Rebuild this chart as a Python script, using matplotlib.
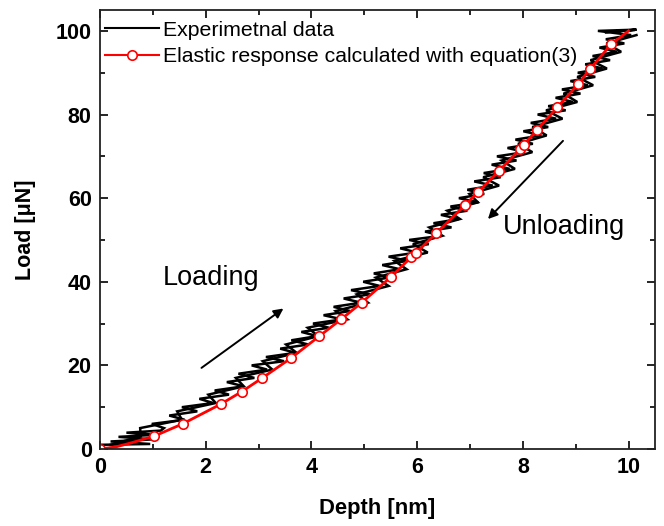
import matplotlib
matplotlib.use("Agg")
import matplotlib.pyplot as plt
from matplotlib.ticker import MultipleLocator

plt.rcParams['font.family'] = ['Liberation Sans', 'DejaVu Sans']

# Experimental data, loading branch (zig-zag noisy trace), depth [nm] vs load [uN]
load_up = [1.0, 1.2, 1.8, 2.3, 2.9, 3.4, 3.9, 4.4,
           5, 6, 7, 8, 9, 10, 11, 12, 13, 14, 15, 16, 17, 18, 19, 20,
           21, 22, 23, 24, 25, 26, 27, 28, 29, 30, 31, 32, 33, 34, 35, 36,
           37, 38, 39, 40, 41, 42, 43, 44, 45, 46, 47, 48, 49, 50,
           51, 52, 53, 54, 55, 56, 57, 58, 59, 60, 61, 62, 63, 64, 65, 66,
           67, 68, 69, 70, 71, 72, 73, 74, 75, 76, 77, 78, 79, 80,
           81, 82, 83, 84, 85, 86, 87, 88, 89, 90, 91, 92, 93, 94, 95, 96,
           97, 98, 99, 100, 100.3, 99.7, 100.2]
depth_up = [0.0, 0.95, 0.2, 1.0, 0.35, 1.05, 0.5, 1.15,
            1.21, 0.98, 1.60, 1.31, 1.84, 1.55, 2.14, 1.88, 2.44, 2.17, 2.72, 2.40,
            2.92, 2.62, 3.16, 2.87,
            3.48, 3.14, 3.70, 3.41, 3.94, 3.62, 4.11, 3.81, 4.33, 4.03, 4.58, 4.23,
            4.73, 4.42, 4.94, 4.61, 5.11, 4.75, 5.29, 4.98, 5.47, 5.18, 5.67, 5.34,
            5.82, 5.46, 6.00, 5.68, 6.22, 5.85,
            6.46, 6.15, 6.65, 6.31, 6.79, 6.45, 6.95, 6.63, 7.16, 6.79, 7.27, 6.95,
            7.43, 7.08, 7.58, 7.26, 7.75, 7.41, 7.88, 7.51, 8.04, 7.71, 8.19, 7.86,
            8.35, 8.01, 8.48, 8.15, 8.63, 8.28,
            8.81, 8.48, 8.95, 8.62, 9.09, 8.74, 9.23, 8.90, 9.37, 9.04, 9.51, 9.18,
            9.65, 9.32, 9.78, 9.45, 9.92, 9.57, 10.05, 9.42, 10.15, 9.55, 10.10]

# Experimental data, unloading branch
load_down = [99, 97, 95, 93, 91, 89, 87, 85, 83, 81, 79, 77, 75, 73, 71, 69, 67,
             65, 63, 61, 59, 57, 55, 53, 51, 49, 47, 45, 43, 41, 39, 37, 35, 33,
             31, 29, 27, 25, 23, 21, 19, 17, 15, 13, 11, 9, 7, 5, 3, 1]
depth_down = [10.15, 9.58, 9.86, 9.28, 9.59, 9.03, 9.33, 8.77, 9.03, 8.44, 8.75,
              8.18, 8.45, 7.91, 8.18, 7.60, 7.85, 7.25, 7.55, 6.99, 7.15, 6.57,
              6.81, 6.23, 6.48, 5.92, 6.20, 5.57, 5.80, 5.22, 5.46, 4.86, 5.07,
              4.46, 4.68, 3.93, 4.13, 3.52, 3.72, 3.08, 3.26, 2.57, 2.72, 2.05,
              2.19, 1.46, 1.55, 0.76, 0.77, 0.2]

# Elastic response (red line) and its marker points
line_depth = [0.0, 0.3, 0.6, 1.03, 1.57, 2.28, 2.68, 3.06, 3.61, 4.15, 4.56, 4.95,
              5.50, 5.89, 5.97, 6.36, 6.91, 7.15, 7.54, 7.95, 8.02, 8.26, 8.65,
              9.05, 9.28, 9.67, 10.0]
line_load = [0.0, 0.5, 1.5, 3.1, 6.05, 10.7, 13.7, 16.9, 21.7, 27.0, 31.0, 35.0,
             41.1, 45.9, 46.8, 51.6, 58.4, 61.4, 66.4, 71.8, 72.8, 76.2, 81.7,
             87.3, 91.0, 96.8, 100.0]
marker_depth = [0.0, 1.03, 1.57, 2.28, 2.68, 3.06, 3.61, 4.15, 4.56, 4.95, 5.50,
                5.89, 5.97, 6.36, 6.91, 7.15, 7.54, 7.95, 8.02, 8.26, 8.65, 9.05,
                9.28, 9.67]
marker_load = [0.0, 3.1, 6.05, 10.7, 13.7, 16.9, 21.7, 27.0, 31.0, 35.0, 41.1,
               45.9, 46.8, 51.6, 58.4, 61.4, 66.4, 71.8, 72.8, 76.2, 81.7, 87.3,
               91.0, 96.8]

fig = plt.figure(figsize=(6.64, 5.26), dpi=100)
ax = fig.add_axes([0.1506, 0.1464, 0.8358, 0.8346])

ax.plot(depth_up, load_up, color='black', lw=1.8, solid_joinstyle='miter')
ax.plot(depth_down, load_down, color='black', lw=1.8, solid_joinstyle='miter')
ax.plot(line_depth, line_load, color='red', lw=2.0)
ax.plot(marker_depth, marker_load, linestyle='none', marker='o', ms=6.8,
        mfc='white', mec='red', mew=1.2)

# legend proxies
h1, = ax.plot([], [], color='black', lw=1.5)
h2, = ax.plot([], [], color='red', lw=1.5, marker='o', ms=6.8, mfc='white',
              mec='red', mew=1.2)
ax.legend([h1, h2], ['Experimetnal data', 'Elastic response calculated with equation(3)'],
          loc='upper left', bbox_to_anchor=(-0.019, 1.012), frameon=False,
          fontsize=15.3, handlelength=2.5, handletextpad=0.2, labelspacing=0.36,
          borderaxespad=0.35)

ax.annotate('', xy=(3.47, 33.6), xytext=(1.92, 19.4),
            arrowprops=dict(arrowstyle='-|>', color='black', lw=1.4,
                            mutation_scale=14, shrinkA=0, shrinkB=0))
ax.annotate('', xy=(7.34, 55.0), xytext=(8.76, 73.7),
            arrowprops=dict(arrowstyle='-|>', color='black', lw=1.4,
                            mutation_scale=14, shrinkA=0, shrinkB=0))
ax.text(1.19, 40.9, 'Loading', fontsize=19.5, va='center', ha='left')
ax.text(7.62, 53.1, 'Unloading', fontsize=19.5, va='center', ha='left')

ax.set_xlim(0, 10.5)
ax.set_ylim(0, 105)
ax.xaxis.set_major_locator(MultipleLocator(2))
ax.xaxis.set_minor_locator(MultipleLocator(1))
ax.yaxis.set_major_locator(MultipleLocator(20))
ax.yaxis.set_minor_locator(MultipleLocator(10))
ax.tick_params(which='both', direction='in', top=True, right=True, width=1.2)
ax.tick_params(which='major', length=6, labelsize=15.5, pad=6)
ax.tick_params(which='minor', length=3.5)
for lab in ax.get_xticklabels() + ax.get_yticklabels():
    lab.set_fontweight('bold')
for s in ax.spines.values():
    s.set_linewidth(1.3)
    s.set_color('#222222')

ax.set_xlabel('Depth [nm]', fontsize=15.8, fontweight='bold', labelpad=14)
ax.set_ylabel('Load [\u03bcN]', fontsize=15.5, fontweight='bold', labelpad=14)

fig.savefig('out.png', dpi=100)
